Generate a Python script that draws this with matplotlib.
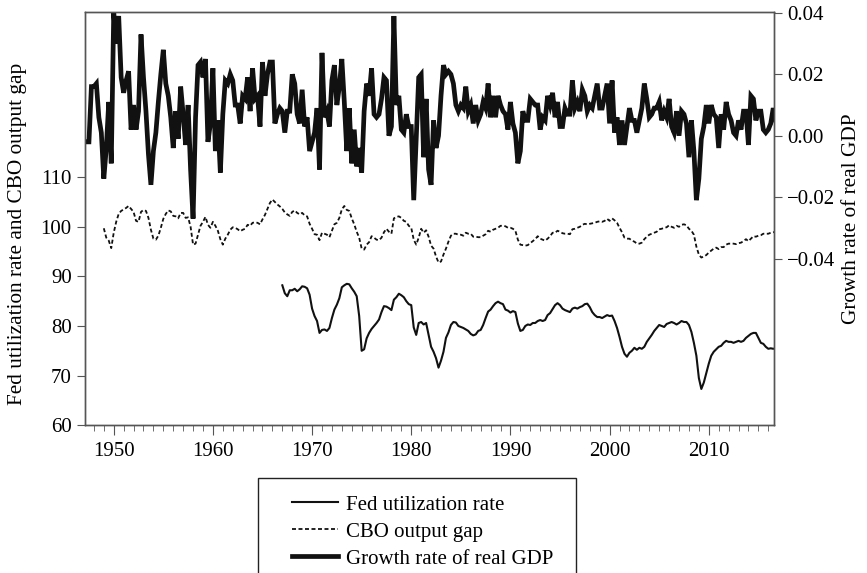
import numpy as np
import matplotlib.pyplot as plt
from matplotlib.ticker import MultipleLocator
from matplotlib.patches import Rectangle

plt.rcParams['font.family'] = ['Liberation Serif', 'DejaVu Serif']
plt.rcParams['font.size'] = 14

# quarterly growth rate of real GDP, 1947Q2 - 2016Q4
gdp_start = 1947.25
gdp_growth = [
    -0.002, -0.002, 0.016,
    0.016, 0.017, 0.006, 0.001,
    -0.014, -0.004, 0.011, -0.009,
    0.040, 0.030, 0.039, 0.019,
    0.014, 0.018, 0.021, 0.002,
    0.010, 0.002, 0.008, 0.033,
    0.019, 0.008, -0.006, -0.016,
    -0.005, 0.001, 0.011, 0.020,
    0.028, 0.017, 0.013, 0.006,
    -0.004, 0.008, -0.001, 0.016,
    0.007, -0.003, 0.010, -0.011,
    -0.027, 0.006, 0.023, 0.024,
    0.019, 0.025, -0.002, 0.004,
    0.022, -0.005, 0.005, -0.012,
    0.007, 0.018, 0.017, 0.020,
    0.018, 0.010, 0.010, 0.004,
    0.013, 0.012, 0.019, 0.008,
    0.022, 0.012, 0.013, 0.003,
    0.024, 0.013, 0.020, 0.024,
    0.024, 0.004, 0.007, 0.009,
    0.008, 0.001, 0.008, 0.008,
    0.020, 0.017, 0.007, 0.004,
    0.015, 0.003, 0.006, -0.005,
    -0.002, 0.001, 0.009, -0.011,
    0.027, 0.006, 0.008, 0.003,
    0.018, 0.023, 0.010, 0.016,
    0.025, 0.011, -0.005, 0.009,
    -0.009, 0.002, -0.010, -0.004,
    -0.012, 0.008, 0.017, 0.013,
    0.022, 0.007, 0.006, 0.007,
    0.012, 0.019, 0.018, 0.000,
    0.003, 0.039, 0.010, 0.013,
    0.002, 0.001, 0.007, 0.003,
    0.003, -0.021, -0.001, 0.019,
    0.020, -0.007, 0.012, -0.011,
    -0.016, 0.005, -0.004, 0.000,
    0.013, 0.023, 0.020, 0.021,
    0.020, 0.017, 0.010, 0.008,
    0.010, 0.009, 0.016, 0.008,
    0.010, 0.004, 0.010, 0.005,
    0.007, 0.011, 0.009, 0.017,
    0.006, 0.013, 0.006, 0.013,
    0.010, 0.008, 0.007, 0.002,
    0.011, 0.004, 0.001, -0.009,
    -0.005, 0.008, 0.005, 0.005,
    0.012, 0.011, 0.010, 0.010,
    0.002, 0.006, 0.005, 0.013,
    0.010, 0.014, 0.006, 0.011,
    0.003, 0.003, 0.009, 0.007,
    0.007, 0.018, 0.009, 0.011,
    0.008, 0.015, 0.013, 0.008,
    0.010, 0.009, 0.013, 0.017,
    0.009, 0.009, 0.013, 0.017,
    0.004, 0.018, 0.001, 0.006,
    -0.003, 0.005, -0.003, 0.003,
    0.009, 0.005, 0.005, 0.001,
    0.005, 0.009, 0.017, 0.012,
    0.006, 0.007, 0.009, 0.009,
    0.011, 0.005, 0.008, 0.006,
    0.012, 0.003, 0.001, 0.008,
    0.000, 0.008, 0.007, 0.004,
    -0.007, 0.005, -0.005, -0.021,
    -0.014, -0.001, 0.003, 0.010,
    0.004, 0.010, 0.007, 0.006,
    -0.004, 0.007, 0.002, 0.011,
    0.007, 0.005, 0.001, 0.000,
    0.005, 0.002, 0.008, 0.008,
    -0.003, 0.013, 0.012, 0.005,
    0.008, 0.008, 0.002, 0.001,
    0.002, 0.004, 0.009, 0.005,
]

# CBO output gap (100 + gap in %), 1949Q1 - 2016Q4
cbo_start = 1949.0
cbo_gap = [
    99.7, 97.8, 97.2, 95.7,
    98.8, 101.0, 102.6, 103.2,
    103.5, 103.8, 104.2, 103.6,
    103.0, 101.2, 101.0, 103.0,
    103.4, 103.2, 101.8, 99.4,
    97.6, 97.4, 98.2, 99.8,
    101.6, 102.6, 103.3, 103.1,
    102.2, 102.1, 101.7, 102.8,
    102.8, 101.8, 101.9, 100.0,
    96.4, 96.6, 98.4, 100.2,
    101.0, 102.0, 100.4, 99.8,
    101.0, 100.2, 99.2, 97.5,
    96.4, 97.6, 98.4, 99.4,
    99.9, 99.8, 99.5, 99.1,
    99.4, 99.6, 100.4, 100.2,
    100.8, 100.9, 100.8, 100.5,
    101.5, 102.4, 103.6, 104.8,
    105.5, 105.0, 104.5, 104.1,
    103.6, 102.9, 102.5, 102.2,
    103.0, 103.3, 102.8, 102.5,
    102.8, 102.3, 102.1, 100.6,
    99.6, 98.5, 98.4, 97.3,
    98.8, 98.6, 98.4, 97.9,
    99.2, 100.5, 100.8, 101.8,
    103.5, 104.2, 103.4, 103.2,
    101.7, 100.5, 99.0, 97.8,
    95.6, 95.4, 96.4, 96.9,
    98.1, 97.8, 97.4, 97.3,
    97.8, 98.9, 99.6, 99.0,
    98.6, 101.7, 102.0, 102.1,
    101.8, 101.2, 101.0, 100.2,
    99.8, 97.4, 96.4, 97.8,
    99.6, 98.8, 99.3, 98.0,
    96.2, 95.6, 94.0, 92.8,
    93.0, 94.4, 95.6, 97.0,
    98.2, 98.6, 98.6, 98.4,
    98.4, 98.2, 98.8, 98.6,
    98.6, 98.0, 98.0, 97.9,
    97.9, 98.2, 98.5, 99.2,
    99.0, 99.4, 99.6, 99.8,
    100.2, 100.2, 100.1, 99.8,
    99.8, 99.6, 99.2, 97.4,
    96.4, 96.3, 96.2, 96.3,
    96.7, 97.1, 97.5, 98.1,
    97.6, 97.4, 97.2, 97.6,
    98.1, 98.8, 98.8, 99.2,
    99.0, 98.7, 98.6, 98.6,
    98.5, 99.5, 99.6, 99.8,
    100.0, 100.4, 100.6, 100.5,
    100.6, 100.7, 100.8, 101.0,
    101.1, 101.0, 101.2, 101.6,
    101.2, 101.7, 101.3, 100.8,
    99.8, 98.9, 97.8, 97.6,
    97.6, 97.2, 97.0, 96.6,
    96.6, 96.8, 97.5, 98.0,
    98.4, 98.6, 98.8, 99.0,
    99.5, 99.6, 99.8, 99.9,
    100.3, 100.0, 99.8, 100.2,
    100.0, 100.4, 100.5, 100.3,
    99.6, 99.2, 98.4, 96.0,
    94.4, 93.8, 94.0, 94.3,
    94.8, 95.2, 95.6, 95.8,
    95.5, 95.9, 95.9, 96.4,
    96.6, 96.6, 96.6, 96.5,
    96.7, 96.8, 97.1, 97.5,
    97.1, 97.6, 98.1, 98.0,
    98.2, 98.3, 98.6, 98.6,
    98.6, 98.8, 98.9, 98.9,
]

# Fed capacity utilization rate, 1967Q1 - 2016Q4
util_start = 1967.0
util_rate = [
    88.2, 86.6, 86.0, 87.2,
    87.2, 87.5, 87.0, 87.4,
    88.0, 87.9, 87.6, 86.3,
    83.5, 82.0, 81.0, 78.6,
    79.2, 79.3, 79.0, 79.6,
    81.6, 83.3, 84.3, 85.6,
    87.8, 88.2, 88.5, 88.4,
    87.6, 86.9, 86.0, 82.0,
    75.0, 75.3, 77.5, 78.6,
    79.4, 80.0, 80.6, 81.3,
    82.8, 84.0, 83.9, 83.6,
    83.2, 85.3, 85.8, 86.5,
    86.2, 85.8, 85.0, 84.4,
    84.2, 79.7, 78.2, 80.6,
    80.8, 80.3, 80.6, 78.2,
    75.8, 74.8, 73.5, 71.6,
    73.0, 74.8, 77.6, 78.7,
    80.2, 80.8, 80.7, 80.0,
    79.8, 79.6, 79.3, 79.0,
    78.4, 78.1, 78.3, 79.0,
    79.2, 80.2, 81.6, 82.9,
    83.3, 84.0, 84.6, 84.9,
    84.6, 84.4, 83.3, 83.1,
    82.7, 83.0, 82.8, 80.5,
    79.0, 79.2, 80.0, 80.3,
    80.2, 80.6, 80.6, 81.0,
    81.2, 81.0, 81.2, 82.2,
    82.6, 83.4, 84.2, 84.6,
    84.2, 83.5, 83.2, 83.0,
    82.8, 83.5, 83.7, 83.5,
    83.8, 84.0, 84.4, 84.5,
    83.8, 82.8, 82.2, 81.8,
    81.8, 81.6, 81.9, 82.2,
    82.0, 82.1, 81.0, 79.6,
    77.8, 75.8, 74.4, 73.8,
    74.6, 75.0, 75.6, 75.2,
    75.6, 75.4, 75.8, 76.8,
    77.5, 78.2, 79.0, 79.6,
    80.2, 80.0, 79.8, 80.4,
    80.6, 80.8, 80.6, 80.3,
    80.6, 81.0, 80.8, 80.8,
    80.2, 78.8, 76.6, 74.0,
    69.5, 67.3, 68.6, 70.5,
    72.4, 74.0, 74.8, 75.3,
    75.8, 76.0, 76.6, 77.0,
    76.8, 76.8, 76.6, 76.8,
    77.0, 76.8, 77.0, 77.6,
    78.0, 78.4, 78.6, 78.6,
    77.6, 76.6, 76.4, 75.8,
    75.4, 75.5, 75.4, 75.5,
]

gdp_t = gdp_start + np.arange(len(gdp_growth)) / 4
cbo_t = cbo_start + np.arange(len(cbo_gap)) / 4
util_t = util_start + np.arange(len(util_rate)) / 4

fig = plt.figure(figsize=(8.67, 5.73), dpi=100)
ax = fig.add_axes([0.098, 0.258, 0.795, 0.721])
ax2 = ax.twinx()

l1, = ax.plot(util_t, util_rate, color='#111111', lw=1.5)
l2, = ax.plot(cbo_t, cbo_gap, color='#111111', lw=1.3, dashes=(2.2, 1.4))
l3, = ax2.plot(gdp_t, gdp_growth, color='#111111', lw=3.4, solid_joinstyle='miter')

ax.set_xlim(1947.1, 2016.6)
ax.set_ylim(60, 143.3)
ax2.set_ylim(-0.0943, 0.0403)

ax.set_yticks([60, 70, 80, 90, 100, 110])
ax2.set_yticks([-0.04, -0.02, 0.0, 0.02, 0.04])
ax2.set_yticklabels(['\u22120.04', '\u22120.02', '0.00', '0.02', '0.04'])
ax.xaxis.set_major_locator(MultipleLocator(10))
ax.xaxis.set_minor_locator(MultipleLocator(1))

for a in (ax, ax2):
    for s in a.spines.values():
        s.set_color('#555555')
        s.set_linewidth(1.0)
ax.tick_params(axis='both', which='major', direction='out', length=6, color='#555555', labelsize=15)
ax.tick_params(axis='x', which='minor', direction='out', length=4, color='#555555')
ax.tick_params(axis='x', which='major', length=7, pad=5)
ax2.tick_params(axis='y', direction='out', length=6, color='#555555', labelsize=15)

ax.set_ylabel('Fed utilization rate and CBO output gap', fontsize=15.3)
ax.yaxis.set_label_coords(-0.084, 0.464)
ax2.set_ylabel('Growth rate of real GDP', fontsize=15.3)
ax2.yaxis.set_label_coords(1.099, 0.5)

# legend frame runs off the bottom of the figure
fig.patches.append(Rectangle((258 / 867, -0.02), (576 - 258) / 867, 0.1858,
                             transform=fig.transFigure, fill=False,
                             edgecolor='#222222', lw=1.0))
fig.legend([l1, l2, l3], ['Fed utilization rate', 'CBO output gap', 'Growth rate of real GDP'],
           loc='upper left', bbox_to_anchor=(292 / 867, 1 - 495 / 573), fontsize=15,
           frameon=False, handlelength=2.2, handletextpad=0.4, labelspacing=0.36,
           borderpad=0, borderaxespad=0)

fig.savefig('out.png', dpi=100)
